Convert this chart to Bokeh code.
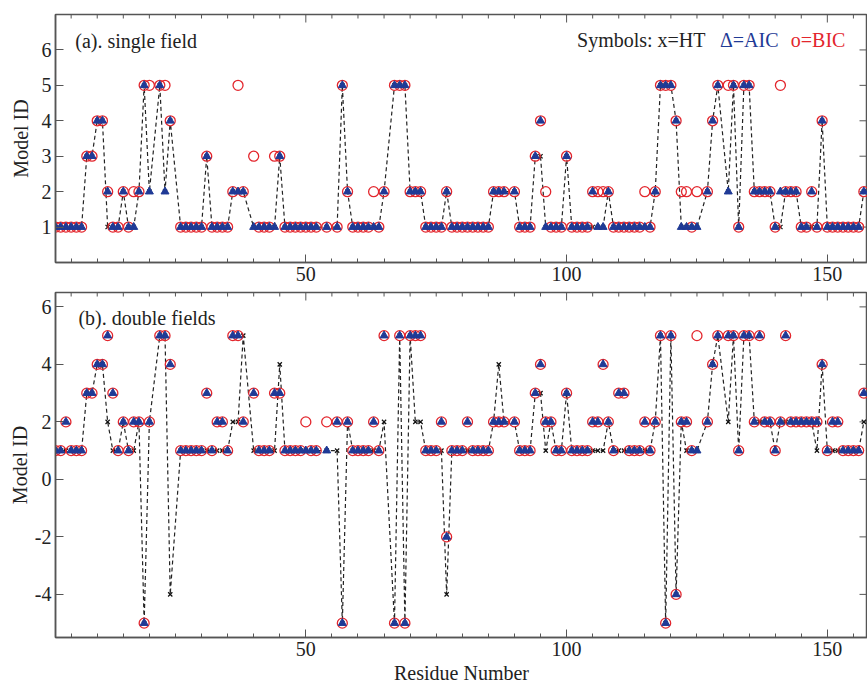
import math
from bokeh.plotting import figure
from bokeh.models import Range1d, SingleIntervalTicker, FixedTicker, Label
from bokeh.layouts import column
from bokeh.embed import file_html
from bokeh.resources import INLINE

# residue numbers (some residues have no value)
residues = [2, 3, 4, 5, 6, 7, 8, 9, 10, 11, 12, 13, 14, 15, 16, 17, 18, 19, 20,
            22, 23, 24, 26, 27, 28, 29, 30, 31, 32, 33, 34, 35, 36, 37, 38,
            40, 41, 42, 43, 44, 45, 46, 47, 48, 49, 50, 51, 52, 54, 56, 57, 58,
            59, 60, 61, 62, 63, 64, 65, 67, 68, 69, 70, 71, 72, 73, 74, 75, 76,
            77, 78, 79, 80, 81, 82, 83, 84, 85, 86, 87, 88, 90, 91, 92, 93, 94,
            95, 96, 97, 98, 99, 100, 101, 102, 103, 104, 105, 106, 107, 108,
            109, 110, 111, 112, 113, 114, 115, 116, 117, 118, 119, 120, 121,
            122, 123, 124, 125, 127, 128, 129, 131, 132, 133, 134, 135, 136,
            137, 138, 139, 140, 141, 142, 143, 144, 145, 146, 147, 148, 149,
            150, 151, 152, 153, 154, 155, 156, 157]

# (a) single field
a_ht = [1, 1, 1, 1, 1, 1, 3, 3, 4, 4, 1, 1, 1, 2, 1, 1, 2, 5, 2,
        5, 2, 4, 1, 1, 1, 1, 1, 3, 1, 1, 1, 1, 2, 2, 2,
        1, 1, 1, 1, 1, 3, 1, 1, 1, 1, 1, 1, 1, 1, 1, 5, 2,
        1, 1, 1, 1, 1, 1, 2, 5, 5, 5, 2, 2, 2, 1, 1, 1, 1,
        2, 1, 1, 1, 1, 1, 1, 1, 1, 2, 2, 2, 2, 1, 1, 1, 3,
        3, 1, 1, 1, 1, 3, 1, 1, 1, 1, 1, 1, 1, 2,
        1, 1, 1, 1, 1, 1, 1, 1, 2, 5, 5, 5, 4,
        1, 1, 1, 1, 2, 4, 5, 2, 5, 1, 5, 5, 2,
        2, 2, 2, 1, 1, 2, 2, 2, 1, 1, 1, 1, 4,
        1, 1, 1, 1, 1, 1, 1, 2]
a_aic = [1, 1, 1, 1, 1, 1, 3, 3, 4, 4, 2, 1, 1, 2, 1, 1, 2, 5, 2,
         5, 2, 4, 1, 1, 1, 1, 1, 3, 1, 1, 1, 1, 2, 2, 2,
         1, 1, 1, 1, 1, 3, 1, 1, 1, 1, 1, 1, 1, 1, 1, 5, 2,
         1, 1, 1, 1, 1, 1, 2, 5, 5, 5, 2, 2, 2, 1, 1, 1, 1,
         2, 1, 1, 1, 1, 1, 1, 1, 1, 2, 2, 2, 2, 1, 1, 1, 3,
         4, 1, 1, 1, 1, 3, 1, 1, 1, 1, 2, 1, 1, 2,
         1, 1, 1, 1, 1, 1, 1, 1, 2, 5, 5, 5, 4,
         1, 1, 1, 1, 2, 4, 5, 2, 5, 1, 5, 5, 2,
         2, 2, 2, 1, 2, 2, 2, 2, 1, 1, 2, 1, 4,
         1, 1, 1, 1, 1, 1, 1, 2]
a_bic = [1, 1, 1, 1, 1, 1, 3, 3, 4, 4, 2, 1, 1, 2, 1, 2, 2, 5, 5,
         5, 5, 4, 1, 1, 1, 1, 1, 3, 1, 1, 1, 1, 2, 5, 2,
         3, 1, 1, 1, 3, 3, 1, 1, 1, 1, 1, 1, 1, 1, 1, 5, 2,
         1, 1, 1, 1, 2, 1, 2, 5, 5, 5, 2, 2, 2, 1, 1, 1, 1,
         2, 1, 1, 1, 1, 1, 1, 1, 1, 2, 2, 2, 2, 1, 1, 1, 3,
         4, 2, 1, 1, 1, 3, 1, 1, 1, 1, 2, 2, 2, 2,
         1, 1, 1, 1, 1, 1, 2, 1, 2, 5, 5, 5, 4,
         2, 2, 1, 2, 2, 4, 5, 5, 5, 1, 5, 5, 2,
         2, 2, 2, 1, 5, 2, 2, 2, 1, 1, 2, 1, 4,
         1, 1, 1, 1, 1, 1, 1, 2]

# (b) double fields
b_ht = [1, 1, 1, 1, 1, 1, 3, 3, 4, 4, 2, 1, 1, 2, 1, 1, 2, -5, 2,
        5, 5, -4, 1, 1, 1, 1, 1, 1, 1, 1, 1, 1, 2, 2, 5,
        1, 1, 1, 1, 1, 4, 1, 1, 1, 1, 1, 1, 1, 1, 1, -5, 2,
        1, 1, 1, 1, 1, 1, 2, -5, 5, -5, 5, 2, 2, 1, 1, 1, 1,
        -4, 1, 1, 1, 1, 1, 1, 1, 1, 2, 4, 2, 2, 1, 1, 1, 3,
        3, 1, 2, 1, 1, 3, 1, 1, 1, 1, 1, 1, 1, 2,
        1, 1, 1, 1, 1, 1, 1, 1, 2, 5, -5, 5, -4,
        2, 1, 1, 1, 2, 4, 5, 2, 5, 1, 5, 5, 2,
        2, 2, 2, 1, 2, 2, 2, 2, 2, 2, 2, 1, 4,
        1, 1, 1, 1, 1, 1, 1, 2]
b_aic = [1, 1, 2, 1, 1, 1, 3, 3, 4, 4, 5, 3, 1, 2, 1, 2, 2, -5, 2,
         5, 5, 4, 1, 1, 1, 1, 1, 3, 1, 2, 2, 1, 5, 5, 2,
         3, 1, 1, 1, 3, 3, 1, 1, 1, 1, 1, 1, 1, 1, 2, -5, 2,
         1, 1, 1, 1, 2, 1, 5, -5, 5, -5, 5, 5, 5, 1, 1, 1, 2,
         -2, 1, 1, 1, 2, 1, 1, 1, 1, 2, 2, 2, 2, 1, 1, 1, 3,
         4, 2, 2, 1, 1, 3, 1, 1, 1, 1, 2, 2, 4, 2,
         1, 3, 3, 1, 1, 1, 2, 1, 2, 5, -5, 5, -4,
         2, 2, 1, 1, 2, 4, 5, 5, 5, 1, 5, 5, 2,
         5, 2, 2, 1, 2, 5, 2, 2, 2, 2, 2, 2, 4,
         1, 2, 2, 1, 1, 1, 1, 3]
b_bic = [1, 1, 2, 1, 1, 1, 3, 3, 4, 4, 5, 3, 1, 2, 1, 2, 2, -5, 2,
         5, 5, 4, 1, 1, 1, 1, 1, 3, 1, 2, 2, 1, 5, 5, 2,
         3, 1, 1, 1, 3, 3, 1, 1, 1, 1, 2, 1, 1, 2, 2, -5, 2,
         1, 1, 1, 1, 2, 1, 5, -5, 5, -5, 5, 5, 5, 1, 1, 1, 2,
         -2, 1, 1, 1, 2, 1, 1, 1, 1, 2, 2, 2, 2, 1, 1, 1, 3,
         4, 2, 2, 1, 1, 3, 1, 1, 1, 1, 2, 2, 4, 2,
         1, 3, 3, 1, 1, 1, 2, 1, 2, 5, -5, 5, -4,
         2, 2, 1, 5, 2, 4, 5, 5, 5, 1, 5, 5, 2,
         5, 2, 2, 1, 2, 5, 2, 2, 2, 2, 2, 2, 4,
         1, 2, 2, 1, 1, 1, 1, 3]

x_major_ticks = [50, 100, 150]
x_minor_ticks = [5, 10, 15, 20, 25, 30, 35, 40, 45, 55, 60, 65, 70, 75, 80, 85,
                 90, 95, 105, 110, 115, 120, 125, 130, 135, 140, 145, 155]
top_yticks = [1, 2, 3, 4, 5, 6]
bottom_yticks = [-4, -2, 0, 2, 4, 6]
panel_titles = ["(a). single field", "(b). double fields"]

FONT = "Liberation Serif"
RED = "#e3262d"
BLUE = "#1f3a96"
AX = "#555555"
TXT = "#222222"


def style(p, yticks, ylabel_standoff):
    p.xaxis.ticker = SingleIntervalTicker(interval=50, num_minor_ticks=10)
    p.yaxis.ticker = FixedTicker(ticks=yticks)
    p.yaxis.major_label_overrides = {t: str(t) for t in yticks}
    for ax in list(p.xaxis) + list(p.yaxis):
        ax.axis_line_color = AX
        ax.axis_line_width = 1.5
        ax.major_tick_in = 8
        ax.major_tick_out = 0
        ax.minor_tick_in = 4
        ax.minor_tick_out = 0
        ax.major_tick_line_color = AX
        ax.minor_tick_line_color = AX
        ax.major_label_text_font = FONT
        ax.major_label_text_font_size = "20px"
        ax.major_label_text_color = TXT
        ax.axis_label_text_font = FONT
        ax.axis_label_text_font_size = "20px"
        ax.axis_label_text_font_style = "normal"
        ax.axis_label_text_color = TXT
        ax.major_label_standoff = 4
    p.yaxis.minor_tick_line_color = None
    p.yaxis.axis_label = "Model ID"
    p.yaxis.axis_label_standoff = ylabel_standoff
    p.outline_line_color = AX
    p.outline_line_width = 1.5
    p.xgrid.grid_line_color = None
    p.ygrid.grid_line_color = None
    p.background_fill_color = "white"
    p.border_fill_color = "white"


def frame_ticks(p, ytop, xright, yticks):
    # inward tick marks on the top and right frame edges (half of each dash is clipped)
    p.scatter(x_major_ticks, [ytop] * len(x_major_ticks), marker="dash", size=16,
              angle=math.pi / 2, line_color=AX, line_width=1)
    p.scatter(x_minor_ticks, [ytop] * len(x_minor_ticks), marker="dash", size=8,
              angle=math.pi / 2, line_color=AX, line_width=1)
    p.scatter([xright] * len(yticks), yticks, marker="dash", size=16,
              line_color=AX, line_width=1)


def draw(p, ht, aic, bic):
    p.line(residues, ht, line_color="#222222", line_width=1.2, line_dash="4 3")
    p.scatter(residues, ht, marker="x", size=6, line_color="#111111", line_width=1.2)
    p.scatter(residues, bic, marker="circle", size=10, fill_color=None,
              line_color=RED, line_width=1.3)
    p.scatter(residues, aic, marker="triangle", size=8, fill_color=BLUE,
              line_color=BLUE, line_width=1)


X0, X1 = 2, 157.7

p1 = figure(width=867, height=290, x_range=Range1d(X0, X1), y_range=Range1d(0, 7),
            output_backend="svg", toolbar_location=None,
            min_border_left=55, min_border_right=0, min_border_top=14, min_border_bottom=28)
style(p1, top_yticks, 7)
frame_ticks(p1, 7, X1, top_yticks)
draw(p1, a_ht, a_aic, a_bic)
p1.add_layout(Label(x=5.8, y=6.25, text=panel_titles[0], text_font=FONT,
                    text_font_size="20px", text_baseline="middle", text_color=TXT))
p1.add_layout(Label(x=102.0, y=6.27, text="Symbols: x=HT", text_font=FONT,
                    text_font_size="20px", text_baseline="middle", text_color=TXT))
p1.add_layout(Label(x=129.4, y=6.27, text="\u0394=AIC", text_font=FONT,
                    text_font_size="20px", text_baseline="middle", text_color=BLUE))
p1.add_layout(Label(x=143.0, y=6.27, text="o=BIC", text_font=FONT,
                    text_font_size="20px", text_baseline="middle", text_color=RED))

p2 = figure(width=867, height=396, x_range=Range1d(X0, X1), y_range=Range1d(-5.5, 6.5),
            output_backend="svg", toolbar_location=None,
            min_border_left=55, min_border_right=0, min_border_top=2, min_border_bottom=45)
style(p2, bottom_yticks, 1)
p2.below[0].axis_label = "Residue Number"
p2.below[0].axis_label_standoff = 3
frame_ticks(p2, 6.5, X1, bottom_yticks)
draw(p2, b_ht, b_aic, b_bic)
p2.add_layout(Label(x=6.4, y=5.6, text=panel_titles[1], text_font=FONT,
                    text_font_size="20px", text_baseline="middle", text_color=TXT))

layout = column(p1, p2, spacing=0)
open("out.html", "w").write(file_html(layout, INLINE))
